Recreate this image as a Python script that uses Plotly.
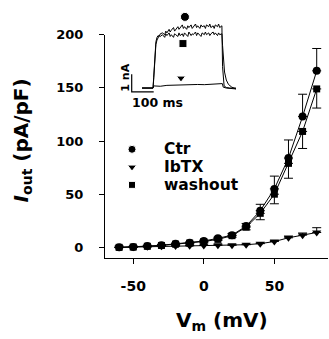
import plotly.graph_objects as go

# ---------------- data ----------------
vm = [-60, -50, -40, -30, -20, -10, 0, 10, 20, 30, 40, 50, 60, 70, 80]
ctr = [0, 0.3, 1.2, 2.0, 3.4, 4.4, 6.0, 8.5, 11.5, 20, 34.5, 55, 84, 123, 166]
ctr_err = [0.3, 0.3, 0.4, 0.5, 0.6, 0.7, 0.8, 1.0, 1.5, 2.5, 6, 12, 17, 21, 21]
ibtx = [0, 0.2, 0.5, 1.0, 1.2, 1.5, 1.8, 2.0, 2.0, 2.5, 3.5, 5.5, 9, 11.5, 14]
ibtx_err = [0.2, 0.2, 0.2, 0.3, 0.3, 0.3, 0.3, 0.4, 0.4, 0.5, 0.6, 0.8, 1.5, 2.0, 4.5]
wash = [0, 0.3, 1.0, 1.8, 3.0, 4.0, 5.5, 7.5, 11, 19, 32, 50, 79, 109, 149]
wash_err = [0.3, 0.3, 0.4, 0.5, 0.6, 0.7, 0.8, 1.0, 1.5, 2.5, 6, 9, 14, 16, 18]

x_ticks = [-50, 0, 50]
y_ticks = [0, 50, 100, 150, 200]

# inset current traces (time in ms, current in nA)
tr_t = [47, 97, 100, 103, 106, 110, 115, 120, 125, 130, 140, 150, 155, 160, 170, 175,
        180, 190, 195, 200, 210, 215, 220, 230, 235, 240, 250, 255, 260, 270, 275,
        280, 290, 295, 300, 310, 315, 320, 330, 335, 340, 350, 355, 360, 370, 375,
        380, 390, 395, 400, 410]
tr_ctr = [0, 0, 0.6, 1.5, 2.2, 2.6, 2.85, 2.95, 2.9, 3.05, 3.1, 3.0, 3.2, 3.1, 3.3, 3.15,
          3.25, 3.4, 3.2, 3.3, 3.45, 3.3, 3.4, 3.55, 3.35, 3.45, 3.3, 3.5, 3.4, 3.55, 3.35,
          3.45, 3.6, 3.4, 3.5, 3.35, 3.55, 3.45, 3.5, 3.35, 3.55, 3.45, 3.6, 3.4, 3.5, 3.35,
          3.55, 3.45, 3.6, 3.4, 3.5]
tr_wash = [0, 0, 0.5, 1.3, 2.0, 2.45, 2.7, 2.85, 2.95, 2.9, 3.0, 2.85, 3.05, 2.95, 3.1, 2.9,
           3.0, 2.85, 3.05, 3.0, 2.9, 3.1, 2.95, 3.05, 2.9, 3.1, 3.0, 2.9, 3.15, 2.95, 3.05,
           3.0, 3.15, 2.95, 3.1, 3.0, 2.9, 3.1, 3.0, 3.15, 3.0, 3.1, 2.95, 3.05, 3.15, 3.0,
           3.1, 2.95, 3.1, 3.0, 3.05]
tail_ctr_t = [410, 413, 416, 420, 430, 445, 474]
tail_ctr = [3.5, 1.2, 0.35, 0.12, 0.03, 0.0, 0.0]
tail_wash_t = [410, 413, 417, 422, 430, 440, 455, 474]
tail_wash = [3.05, 2.4, 1.5, 0.9, 0.45, 0.2, 0.05, -0.05]
tr_ib_t = [47, 97, 100, 130, 160, 200, 230, 260, 300, 330, 360, 400, 412, 416, 430, 474]
tr_ib = [0, 0, 0.12, 0.1, 0.15, 0.17, 0.16, 0.19, 0.2, 0.19, 0.22, 0.24, 0.25, 0.05, 0.0, -0.05]

scale_ms = 100
scale_nA = 1
inset_marker_t = [242, 224, 233]
inset_marker_i = [4.0, 0.56, 2.5]

series_names = ["Ctr", "IbTX", "washout"]
symbols = ["circle", "triangle-down", "square"]

# ---------------- layout geometry ----------------
W, H = 329, 339
ML, MR, MT, MB = 105, 1, 5, 81
pw, ph = W - ML - MR, H - MT - MB
px_per_ms, ms0_px = 0.22, 131.7
px_per_nA, nA0_py = 18.0, 86.0


def px(x):
    return (x - ML) / pw


def py(y):
    return (H - MB - y) / ph


FONT = "DejaVu Sans"
fig = go.Figure()

# main data
for vals, err, sym, name, up in [
    (ctr, ctr_err, "circle", "Ctr", True),
    (wash, wash_err, "square", "washout", False),
    (ibtx, ibtx_err, "triangle-down", "IbTX", True),
]:
    fig.add_trace(go.Scatter(
        x=vm, y=vals, mode="lines+markers", name=name, showlegend=False,
        line=dict(color="black", width=1),
        marker=dict(symbol=sym, size=8 if sym != "square" else 7, color="black",
                    opacity=1),
        error_y=dict(type="data", symmetric=False,
                     array=err if up else [0] * len(err),
                     arrayminus=[0] * len(err) if up else err,
                     color="black", thickness=1, width=4.5),
        xaxis="x", yaxis="y", cliponaxis=False,
    ))

# inset traces
for tt, ii in [(tr_t + tail_wash_t[1:], tr_wash + tail_wash[1:]),
               (tr_t + tail_ctr_t[1:], tr_ctr + tail_ctr[1:]),
               (tr_ib_t, tr_ib)]:
    fig.add_trace(go.Scatter(x=tt, y=ii, mode="lines", showlegend=False,
                             line=dict(color="black", width=1),
                             xaxis="x2", yaxis="y2", hoverinfo="skip"))
# scale bar
fig.add_trace(go.Scatter(x=[0, 0, scale_ms], y=[scale_nA - 0.22, -0.22, -0.22],
                         mode="lines", showlegend=False,
                         line=dict(color="black", width=1.2),
                         xaxis="x2", yaxis="y2"))
fig.add_trace(go.Scatter(x=inset_marker_t, y=inset_marker_i, mode="markers",
                         showlegend=False,
                         marker=dict(symbol=symbols, size=[9, 8, 8], color="black",
                                     opacity=1),
                         xaxis="x2", yaxis="y2"))

# legend markers (pixel overlay axes)
leg_y = [148, 166, 184]
fig.add_trace(go.Scatter(x=[132, 132, 132], y=leg_y, mode="markers", showlegend=False,
                         marker=dict(symbol=symbols, size=[8, 8, 7], color="black",
                                     opacity=1),
                         xaxis="x3", yaxis="y3"))
annotations = []
for name, yy in zip(series_names, leg_y):
    annotations.append(dict(text="<b>%s</b>" % name, x=px(162), y=py(yy),
                            xref="paper", yref="paper", xanchor="left",
                            yanchor="middle", showarrow=False,
                            font=dict(family=FONT, size=15.5, color="black")))

annotations.append(dict(text="<b>V<sub>m</sub> (mV)</b>", x=px(222), y=py(322),
                        xref="paper", yref="paper", xanchor="center", yanchor="middle",
                        showarrow=False, font=dict(family=FONT, size=20, color="black")))
annotations.append(dict(text="<b><i>I</i><sub>out</sub> (pA/pF)</b>", x=px(22), y=py(139),
                        xref="paper", yref="paper", xanchor="center", yanchor="middle",
                        textangle=-90, showarrow=False,
                        font=dict(family=FONT, size=20, color="black")))
annotations.append(dict(text="<b>1 nA</b>", x=px(125.5), y=py(76), xref="paper",
                        yref="paper", xanchor="center", yanchor="middle", textangle=-90,
                        showarrow=False, font=dict(family=FONT, size=11, color="black")))
annotations.append(dict(text="<b>100 ms</b>", x=px(157.5), y=py(101), xref="paper",
                        yref="paper", xanchor="center", yanchor="middle",
                        showarrow=False, font=dict(family=FONT, size=12.5, color="black")))

ymain_top = (H - MB - 32) / ph
t_lo = (ML - ms0_px) / px_per_ms
t_hi = (W - MR - ms0_px) / px_per_ms
i_lo = -(H - MB - nA0_py) / px_per_nA
i_hi = (nA0_py - MT) / px_per_nA

fig.update_layout(
    width=W, height=H, margin=dict(l=ML, r=MR, t=MT, b=MB),
    paper_bgcolor="white", plot_bgcolor="rgba(0,0,0,0)",
    showlegend=False,
    xaxis=dict(domain=[0, 1], range=[-70, 88], anchor="y", showgrid=False,
               zeroline=False, showline=True, linecolor="black", linewidth=1,
               ticks="outside", ticklen=5, tickcolor="black", tickwidth=1,
               tickvals=x_ticks, ticktext=[str(v) for v in x_ticks],
               ticklabelstandoff=10,
               tickfont=dict(family=FONT, size=14, color="black", weight="bold")),
    yaxis=dict(domain=[0, ymain_top], range=[-10, 200], anchor="x", showgrid=False,
               zeroline=False, showline=True, linecolor="black", linewidth=1,
               ticks="outside", ticklen=5, tickcolor="black", tickwidth=1,
               tickvals=y_ticks, ticktext=[str(v) for v in y_ticks],
               ticklabelstandoff=13,
               tickfont=dict(family=FONT, size=13, color="black", weight="bold")),
    xaxis2=dict(domain=[0, 1], range=[t_lo, t_hi], anchor="y2", visible=False),
    yaxis2=dict(domain=[0, 1], range=[i_lo, i_hi], anchor="x2", visible=False),
    xaxis3=dict(domain=[0, 1], range=[ML, W - MR], anchor="y3", visible=False),
    yaxis3=dict(domain=[0, 1], range=[H - MB, MT], anchor="x3", visible=False),
    annotations=annotations,
)

fig.write_html("out.html", config={"displayModeBar": False},
               post_script="document.body.style.margin='0px';"
                           "document.body.style.overflow='hidden';")
